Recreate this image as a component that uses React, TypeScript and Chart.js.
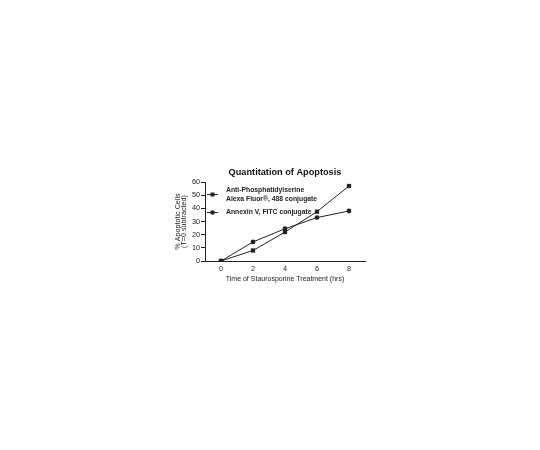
import React, { useEffect, useRef } from "react";
import { Chart, registerables } from "chart.js";

Chart.register(...registerables);

// ── Data ─────────────────────────────────────────────────────
const hours = [0, 2, 4, 6, 8];
const antiPS = [0, 8, 22, 37.5, 57];
const annexinV = [0, 14.5, 24.5, 33, 38];
const xTicks = [0, 2, 4, 6, 8];

const FONT = "'Liberation Sans', Arial, sans-serif";
const INK = "#222";

const legendItems = [
  { lines: ["Anti-Phosphatidylserine", "Alexa Fluor\u00ae, 488 conjugate"], style: "rect" },
  { lines: ["Annexin V, FITC conjugate"], style: "circle" },
];

// in-plot legend, drawn on the canvas
const legendPlugin = {
  id: "inlineLegend",
  afterDraw(chart: Chart) {
    const { ctx, chartArea } = chart;
    const x0 = chartArea.left + 2;
    const rows = [chartArea.top + 12.5, chartArea.top + 30.5];
    ctx.save();
    ctx.strokeStyle = INK;
    ctx.fillStyle = INK;
    ctx.lineWidth = 1;
    ctx.font = `bold 6.8px ${FONT}`;
    ctx.textBaseline = "middle";
    legendItems.forEach((item, i) => {
      const y = rows[i];
      ctx.beginPath();
      ctx.moveTo(x0, y);
      ctx.lineTo(x0 + 11, y);
      ctx.stroke();
      ctx.beginPath();
      if (item.style === "rect") ctx.rect(x0 + 3.5, y - 2, 4, 4);
      else ctx.arc(x0 + 5.5, y, 2.3, 0, Math.PI * 2);
      ctx.fill();
      const n = item.lines.length;
      item.lines.forEach((t, j) => {
        ctx.fillText(t, x0 + 19, y + (j - (n - 1) / 2) * 8.3);
      });
    });
    ctx.restore();
  },
};

const App: React.FC = () => {
  const ref = useRef<HTMLCanvasElement>(null);

  useEffect(() => {
    if (!ref.current) return;
    const chart = new Chart(ref.current, {
      type: "line",
      data: {
        datasets: [
          {
            label: "Anti-Phosphatidylserine Alexa Fluor 488 conjugate",
            data: hours.map((h, i) => ({ x: h, y: antiPS[i] })),
            borderColor: INK, backgroundColor: INK, borderWidth: 1,
            pointStyle: "rect", pointRadius: 3, pointBorderWidth: 0, tension: 0,
          },
          {
            label: "Annexin V, FITC conjugate",
            data: hours.map((h, i) => ({ x: h, y: annexinV[i] })),
            borderColor: INK, backgroundColor: INK, borderWidth: 1,
            pointStyle: "circle", pointRadius: 2.4, pointBorderWidth: 0, tension: 0,
          },
        ],
      },
      options: {
        responsive: false, animation: false,
        layout: { padding: { left: 175, right: 175, top: 167, bottom: 167 } },
        plugins: {
          legend: { display: false },
          tooltip: { enabled: false },
          title: {
            display: true, fullSize: false, text: "Quantitation of Apoptosis", color: "#111",
            font: { family: FONT, size: 9.2, weight: "bold", lineHeight: 1.2 },
            padding: { top: 0, bottom: 4 },
          },
        },
        scales: {
          x: {
            type: "linear", min: -1, max: 9,
            afterBuildTicks: s => { s.ticks = xTicks.map(v => ({ value: v })); },
            afterFit: s => { s.height = 22; },
            ticks: { color: INK, font: { family: FONT, size: 7.3 }, padding: 4 },
            grid: { display: false, drawTicks: false },
            border: { color: INK, width: 1 },
            title: {
              display: true, text: "Time of Staurosporine Treatment (hrs)", color: INK,
              font: { family: FONT, size: 7 }, padding: { top: 2, bottom: 0 },
            },
          },
          y: {
            min: 0, max: 60,
            afterFit: s => { s.width = 30; },
            ticks: { stepSize: 10, color: INK, font: { family: FONT, size: 7.3 }, padding: 1 },
            grid: { drawOnChartArea: false, tickLength: 4, color: INK },
            border: { color: INK, width: 1 },
            title: {
              display: true, text: ["% Apoptotic Cells", "(T=0 subtracted)"], color: INK,
              font: { family: FONT, size: 7.2, lineHeight: 0.85 }, padding: { top: 0, bottom: 0, left: 2 } as any,
            },
          },
        },
      },
      plugins: [legendPlugin],
    });
    return () => chart.destroy();
  }, []);

  return (
    <div style={{ position: "absolute", left: 0, top: 0, width: 540, height: 450, background: "#fff" }}>
      <canvas ref={ref} width={540} height={450} style={{ width: 540, height: 450 }} />
    </div>
  );
};

export default App;
